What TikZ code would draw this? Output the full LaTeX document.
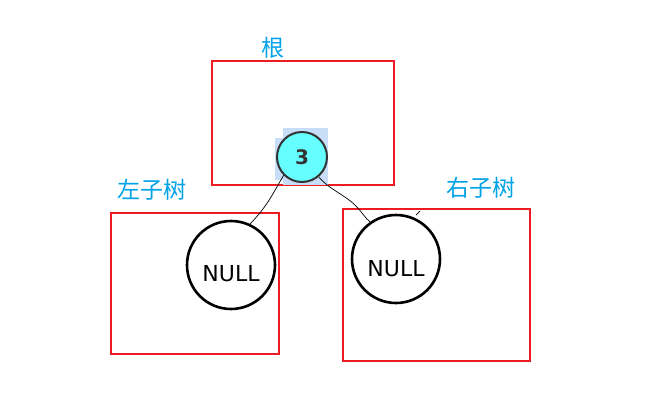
\documentclass[tikz,border=0pt]{standalone}
\usepackage{fontspec}
\setmainfont{DejaVu Sans}
\newfontfamily\cjk{Noto Sans CJK SC}
\definecolor{boxred}{HTML}{ED1C24}
\definecolor{lblblue}{HTML}{00A2E8}
\definecolor{cyanfill}{HTML}{66FFFF}
\definecolor{hilite}{HTML}{C8DEF8}
\begin{document}
\begin{tikzpicture}[x=1pt,y=-1pt,
  redbox/.style={draw=boxred,line width=2.8pt},
  lbl/.style={text=lblblue,font=\cjk\fontsize{23}{23}\selectfont,inner sep=0pt},
  nullnode/.style={circle,draw=black,line width=2.6pt,minimum size=88pt,inner sep=0pt,text height=0pt,text depth=0pt,font=\fontsize{22}{22}\selectfont},
  rootnode/.style={circle,draw=black!80,line width=2pt,fill=cyanfill,minimum size=50pt,inner sep=0pt,font=\bfseries\fontsize{20}{20}\selectfont,text=black!80},
  link/.style={draw=black,line width=0.7pt}]
\useasboundingbox (0,0) rectangle (659,418);
\fill[white] (0,0) rectangle (659,418);
% boxes
\draw[redbox] (212,61) rectangle (394,185);
\draw[redbox] (111,213) rectangle (279,354);
\draw[redbox] (343,209) rectangle (530,361);
% labels
\node[lbl] (lroot) at (273,48) {根};
\node[lbl] (lleft) at (152,190) {左子树};
\node[lbl] (lright) at (481,188) {右子树};
% highlight behind root
\fill[hilite] (283,128) rectangle (328,185);
\fill[hilite] (275,138) rectangle (290,180);
% nodes
\node[rootnode] (r) at (302,157) {3};
\node[nullnode] (a) at (231,265) {\raisebox{-16pt}{NULL}};
\node[nullnode] (b) at (396,259) {\raisebox{-17pt}{NULL}};
% connectors
\draw[link] (r.225) .. controls (272,195) and (268,205) .. (a.65);
\draw[link] (r.-50) .. controls (330,190) and (345,195) .. (355,205) .. controls (362,212) and (365,218) .. (b.125);
\coordinate (t1) at (416,215);
\coordinate (t2) at (420,211);
\draw[link] (t1) -- (t2);
\end{tikzpicture}
\end{document}
